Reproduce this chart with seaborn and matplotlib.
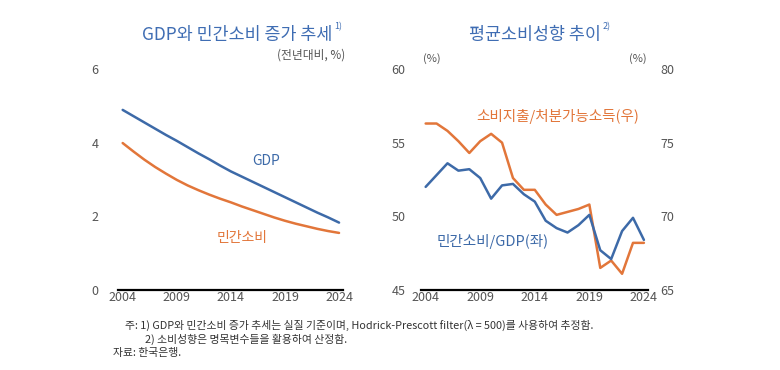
import matplotlib.pyplot as plt
import pandas as pd
import seaborn as sns

YEARS = list(range(2004, 2025))

# GDP and private consumption growth trend (HP filter, % y/y)
GDP_TREND = [4.89, 4.72, 4.55, 4.38, 4.21, 4.05, 3.88, 3.71, 3.55, 3.38, 3.22,
             3.08, 2.94, 2.80, 2.66, 2.52, 2.38, 2.24, 2.10, 1.97, 1.83]
CONS_TREND = [3.99, 3.76, 3.54, 3.34, 3.16, 2.99, 2.84, 2.71, 2.59, 2.48, 2.38,
              2.27, 2.17, 2.07, 1.97, 1.88, 1.80, 1.73, 1.66, 1.60, 1.55]

# average propensity to consume
CONS_TO_GDP = [52.0, 52.8, 53.6, 53.1, 53.2, 52.6, 51.2, 52.1, 52.2, 51.5, 51.0,
               49.7, 49.2, 48.9, 49.4, 50.1, 47.7, 47.1, 49.0, 49.9, 48.4]
CONS_TO_DISP = [76.3, 76.3, 75.8, 75.1, 74.3, 75.1, 75.6, 75.0, 72.6, 71.8, 71.8,
                70.8, 70.1, 70.3, 70.5, 70.8, 66.5, 67.0, 66.1, 68.2, 68.2]

LEFT_TICKS = [0, 2, 4, 6]
RIGHT_L_TICKS = [45, 50, 55, 60]
RIGHT_R_TICKS = [65, 70, 75, 80]
X_TICKS = [2004, 2009, 2014, 2019, 2024]

BLUE = "#3d6aa8"
ORANGE = "#e2763a"
TITLE = "#3f6db3"
GREY = "#555555"

sns.set_theme(style="white")
plt.rcParams["font.family"] = ["Noto Sans CJK KR", "DejaVu Sans"]

fig = plt.figure(figsize=(7.8, 3.7), dpi=100)
ax1 = fig.add_axes([0.1513, 0.2162, 0.2885, 0.5973])
ax2 = fig.add_axes([0.5397, 0.2162, 0.2910, 0.5973])
ax3 = ax2.twinx()

trend = pd.DataFrame({"year": YEARS, "gdp": GDP_TREND, "cons": CONS_TREND})
sns.lineplot(data=trend, x="year", y="gdp", color=BLUE, lw=1.8, ax=ax1)
sns.lineplot(data=trend, x="year", y="cons", color=ORANGE, lw=1.8, ax=ax1)

apc = pd.DataFrame({"year": YEARS, "gdp": CONS_TO_GDP, "disp": CONS_TO_DISP})
sns.lineplot(data=apc, x="year", y="disp", color=ORANGE, lw=1.8, ax=ax3)
sns.lineplot(data=apc, x="year", y="gdp", color=BLUE, lw=1.8, ax=ax2)
ax2.set_zorder(ax3.get_zorder() + 1)
ax2.patch.set_visible(False)

ax1.set_ylim(0, 6)
ax2.set_ylim(45, 60)
ax3.set_ylim(65, 80)
for ax in (ax1, ax2, ax3):
    ax.set_xlim(2003.57, 2024.37)
    ax.set_xlabel("")
    ax.set_ylabel("")
    for s in ax.spines.values():
        s.set_visible(False)
    ax.tick_params(length=0, labelsize=9, colors=GREY)

for ax in (ax1, ax2):
    ax.spines["bottom"].set_visible(True)
    ax.spines["bottom"].set_color("black")
    ax.spines["bottom"].set_linewidth(1.6)
    ax.set_xticks(X_TICKS)
    ax.tick_params(axis="x", pad=1)

ax1.set_yticks(LEFT_TICKS)
ax1.tick_params(axis="y", pad=14)
ax2.set_yticks(RIGHT_L_TICKS)
ax2.tick_params(axis="y", pad=11)
ax3.set_yticks(RIGHT_R_TICKS)
ax3.tick_params(axis="y", pad=9)
ax3.tick_params(axis="x", labelbottom=False, labeltop=False)

# titles with small superscript note marks right after them
fig.canvas.draw()
renderer = fig.canvas.get_renderer()
for cx, title, mark in [(0.304, "GDP와 민간소비 증가 추세", "1)"),
                        (0.686, "평균소비성향 추이", "2)")]:
    t = fig.text(cx, 0.905, title, ha="center", va="center",
                 fontsize=12.5, color=TITLE, fontweight="medium")
    bb = t.get_window_extent(renderer)
    fig.text(bb.x1 / fig.bbox.width + 0.002, 0.928, mark, ha="left", va="center",
             fontsize=6.5, color=TITLE)

fig.text(0.443, 0.851, "(전년대비, %)", ha="right", va="center", fontsize=8.5, color=GREY)
fig.text(0.553, 0.843, "(%)", ha="center", va="center", fontsize=8, color=GREY)
fig.text(0.818, 0.843, "(%)", ha="center", va="center", fontsize=8, color=GREY)

# series labels
ax1.text(2017.3, 3.5, "GDP", ha="center", va="center", fontsize=10, color=BLUE)
ax1.text(2015.0, 1.40, "민간소비", ha="center", va="center", fontsize=10, color=ORANGE)
ax3.text(2016.1, 76.8, "소비지출/처분가능소득(우)", ha="center", va="center",
         fontsize=10.5, color=ORANGE)
ax2.text(2010.1, 48.3, "민간소비/GDP(좌)", ha="center", va="center",
         fontsize=10.5, color=BLUE)

# notes
NOTE_COLOR = "#333333"
fig.text(0.16, 0.121, "주: 1) GDP와 민간소비 증가 추세는 실질 기준이며, Hodrick-Prescott filter(λ = 500)를 사용하여 추정함.",
         ha="left", va="center", fontsize=7.8, color=NOTE_COLOR)
fig.text(0.186, 0.083, "2) 소비성향은 명목변수들을 활용하여 산정함.",
         ha="left", va="center", fontsize=7.8, color=NOTE_COLOR)
fig.text(0.145, 0.046, "자료: 한국은행.", ha="left", va="center", fontsize=7.8, color=NOTE_COLOR)

fig.savefig("out.png", dpi=100)
